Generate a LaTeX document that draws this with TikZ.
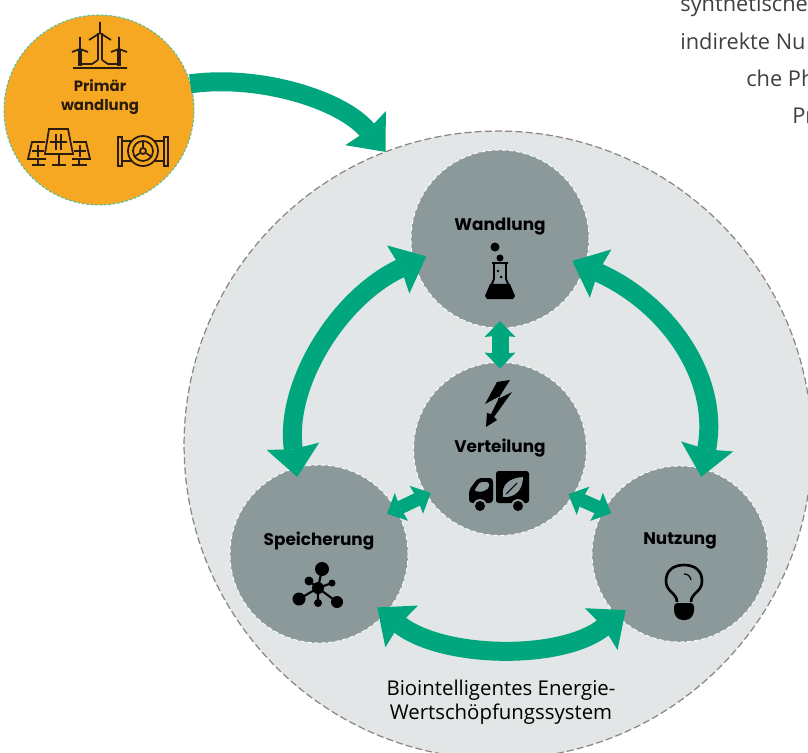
\documentclass[tikz,border=0pt]{standalone}
\usepackage{fontspec}
\usetikzlibrary{arrows.meta}
\newfontfamily\headfont{Poppins}
\newfontfamily\bodyfont{Open Sans}
\definecolor{flowgreen}{HTML}{00A67E}
\definecolor{stagegray}{HTML}{8C999B}
\definecolor{systemgray}{HTML}{E3E6E6}
\definecolor{edgegray}{HTML}{8D8583}
\definecolor{primorange}{HTML}{F7A823}
\definecolor{icondark}{HTML}{2A1C0E}
\tikzset{
  bigtip/.tip={Stealth[length=.62cm,width=1.06cm,inset=.06cm,line width=0pt]},
  smalltip/.tip={Stealth[length=.32cm,width=.62cm,inset=.03cm,line width=0pt]},
  bigflow/.style={draw=flowgreen,line width=.38cm},
  smallflow/.style={draw=flowgreen,line width=.27cm,{smalltip}-{smalltip}},
  stagecircle/.style={circle,inner sep=0pt,outer sep=0pt,fill=stagegray,draw=white,line width=.5pt,dash pattern=on 2.5pt off 1.5pt},
  stagetext/.style={inner sep=0pt,font=\headfont\bfseries\fontsize{9.6}{11}\selectfont},
  toptext/.style={anchor=base west,inner sep=0pt,font=\bodyfont\fontsize{12.4}{15}\selectfont,text=black!75},
  primline/.style={draw=icondark,line width=1pt},
  iconline/.style={draw=black,line width=1.1pt}
}
\begin{document}
\begin{tikzpicture}[x=.02cm,y=-.02cm]
\useasboundingbox (0,0) rectangle (808,753);
\clip (0,0) rectangle (808,753);

% Outer system and stages
\node[circle,inner sep=0pt,outer sep=0pt,minimum size=12.56cm,fill=systemgray,draw=edgegray,line width=.7pt,dash pattern=on 4pt off 1.8pt] (system) at (498,445) {};
\node[circle,inner sep=0pt,outer sep=0pt,minimum size=3.8cm,fill=primorange,draw=flowgreen!70!white,line width=.6pt,dash pattern=on 1.5pt off 1pt] (primar) at (99,110) {};
\node[stagecircle,minimum size=3.56cm] (wandlung) at (500,239) {};
\node[stagecircle,minimum size=3.46cm] (verteilung) at (500,449) {};
\node[stagecircle,minimum size=3.56cm] (speicherung) at (319,554) {};
\node[stagecircle,minimum size=3.52cm] (nutzung) at (680,554) {};

% Labels
\node[stagetext] (wandlungtext) at (500,227) {Wandlung};
\node[stagetext] (verteilungtext) at (500,448) {Verteilung};
\node[stagetext] (speicherungtext) at (319,541) {Speicherung};
\node[stagetext] (nutzungtext) at (680,541) {Nutzung};
\node[stagetext,font=\headfont\bfseries\fontsize{8.5}{10.4}\selectfont,text=icondark,align=center] (primartext) at (100,97) {Primär\\wandlung};
\node[inner sep=0pt,font=\bodyfont\fontsize{11.6}{13.6}\selectfont,align=center] (systemtext) at (501,702) {Biointelligentes Energie-\\Wertschöpfungssystem};

% Cut-off text at the top
\node[toptext] (lineone) at (680,12) {synthetische};
\node[toptext] (linetwo) at (680,50) {indirekte Nu};
\node[toptext] (linethree) at (746,87) {che Ph};
\node[toptext] (linefour) at (792,124) {Pr};

% Connectors
\draw[bigflow,-{bigtip}] (primar.16) to[out=8,in=130,looseness=.85] (system.111);
\draw[bigflow,{bigtip}-{bigtip},shorten <=-.27cm,shorten >=-.18cm] (wandlung.195) to[out=205,in=98,looseness=.9] (speicherung.105);
\draw[bigflow,{bigtip}-{bigtip},shorten <=-.27cm,shorten >=-.16cm] (wandlung.-18) to[out=-24,in=79] (nutzung.75);
\draw[bigflow,{bigtip}-{bigtip},shorten <=-.2cm,shorten >=-.2cm] (speicherung.-42) to[out=-38,in=218,looseness=.8] (nutzung.225);
\draw[smallflow,line width=.34cm,shorten <=-.14cm,shorten >=-.12cm] (wandlung.270) -- (verteilung.90);
\draw[smallflow,shorten <=-.09cm,shorten >=-.2cm] (verteilung.212) -- (speicherung.30);
\draw[smallflow,shorten <=-.09cm,shorten >=-.16cm] (verteilung.-33) -- (nutzung.150);

% Wind turbines
\draw[primline] (100,22) -- (100,33) (89,40) -- (100,33) -- (111,40);
\draw[primline] (98,33) -- (98,60) (102,33) -- (102,60);
\draw[primline] (80,37) -- (80,49) (72,52) -- (80,49) -- (88,52) (119,37) -- (119,49) (111,52) -- (119,49) -- (127,52);
\draw[primline] (79,49) -- (79,66) (81,49) -- (81,66) (118,49) -- (118,66) (120,49) -- (120,66);
\draw[primline] (73,68) -- (127,68) (81,64) -- (92,64) -- (98,60) (102,60) -- (108,64) -- (118,64);
% Solar panels
\draw[primline] (49,129) -- (68,129) -- (73,154) -- (45,154) -- cycle;
\draw[primline,line width=1.1pt] (56,134) -- (56,150) (61,134) -- (61,150) (50,142) -- (67,142);
\draw[primline] (59,154) -- (59,165) (52,165) -- (66,165);
\draw[primline] (45,142) -- (32,142) -- (28,159) -- (46,159);
\draw[primline] (38,145) -- (38,157) (32,151) -- (44,151) (38,159) -- (38,165) (32,165) -- (45,165);
\draw[primline] (73,142) -- (86,142) -- (90,159) -- (72,159);
\draw[primline] (80,145) -- (80,157) (74,151) -- (86,151) (79,159) -- (79,165) (72,165) -- (87,165);
% Water turbine
\draw[primline] (118,137) rectangle (122,166) (164,137) rectangle (168,166);
\draw[primline] (122,141) -- (131,141) (122,161) -- (131,161) (155,141) -- (164,141) (155,161) -- (164,161);
\draw[primline] (143,151) circle (15) (143,151) circle (10) (143,151) circle (3);
\draw[primline] (143,148) -- (143,141) (140,153) -- (134,157) (146,153) -- (152,157);

% Flask
\fill[black] (495,247) circle (4.5) (500,258) circle (3.5);
\draw[iconline] (492,263) -- (508,263) (494,263) -- (494,279) -- (487,296) (506,263) -- (506,279) -- (513,296);
\fill[black] (490,284) -- (510,284) -- (515,296) -- (513,299) -- (487,299) -- (485,296) -- cycle;
\fill[black] (498,271) circle (1.3) (501,277) circle (1.5);

% Bolt
\fill[black] (510,380) -- (497,382) -- (485,404) -- (500,396) -- (491,414) -- (487,413) -- (486,427) -- (497,420) -- (494,417) -- (512,392) -- (498,399) -- cycle;

% Truck with leaf
\fill[black,rounded corners=1.5pt] (496,471) rectangle (529,503);
\fill[black,rounded corners=2pt] (469,503) -- (469,490) -- (478,478) -- (493,478) -- (493,503) -- cycle;
\fill[stagegray,rounded corners=1pt] (474,491) -- (480,482) -- (489,482) -- (489,488) -- (482,492) -- cycle;
\fill[stagegray] (503,497) .. controls (501,484) and (510,478) .. (523,477) .. controls (523,490) and (515,498) .. (503,497) -- cycle;
\draw[black,line width=.6pt] (506,494) -- (517,483);
\fill[stagegray] (480,506) circle (7) (518,506) circle (7);
\fill[black] (480,506) circle (5) (518,506) circle (5);

% Molecule
\draw[black,line width=1.2pt] (318,588) -- (322,569) (318,588) -- (309,581) (318,588) -- (332,583) (318,588) -- (299,599) (318,588) -- (337,602) (318,588) -- (318,603);
\fill[black] (318,588) circle (6) (322,569) circle (7) (309,581) circle (4.5) (332,583) circle (3.5) (299,599) circle (6.5) (337,602) circle (6) (318,603) circle (4);

% Bulb
\draw[black,line width=1.5pt] (677,602) .. controls (677,593) and (666,592) .. (666,581) .. controls (666,570) and (674,565) .. (684,565) .. controls (694,565) and (702,570) .. (702,581) .. controls (702,592) and (691,593) .. (691,602);
\fill[black,rounded corners=2pt] (674,603) -- (694,603) -- (694,614) -- (689,620) -- (679,620) -- (674,614) -- cycle;
\draw[black,line width=.7pt] (684,574) .. controls (688,574) and (690,576) .. (691,580);
\end{tikzpicture}
\end{document}
